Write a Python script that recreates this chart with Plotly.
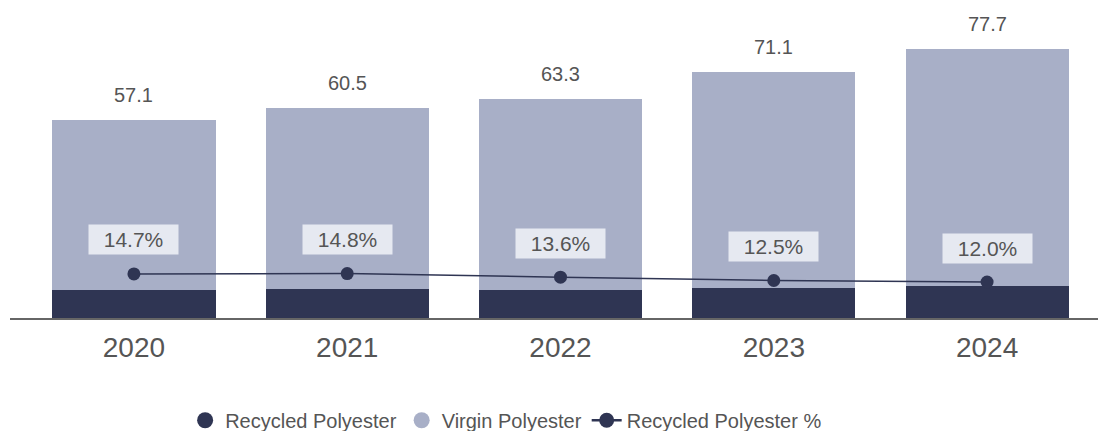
import plotly.graph_objects as go

years = ["2020", "2021", "2022", "2023", "2024"]
totals = [57.1, 60.5, 63.3, 71.1, 77.7]
recycled = [8.2, 8.4, 8.2, 8.7, 9.1]
virgin = [48.9, 52.1, 55.1, 62.4, 68.6]
recycled_pct = [14.7, 14.8, 13.6, 12.5, 12.0]
pct_labels = ["14.7%", "14.8%", "13.6%", "12.5%", "12.0%"]
total_labels = ["57.1", "60.5", "63.3", "71.1", "77.7"]

DARK = "#2f3553"
LIGHT = "#a8afc7"
TXT = "#555555"
FONT = "Liberation Sans, Arial, sans-serif"

fig = go.Figure()
fig.add_trace(go.Bar(x=years, y=recycled, marker=dict(color=DARK, line=dict(width=0)),
                     name="Recycled Polyester", showlegend=False, hoverinfo="skip"))
fig.add_trace(go.Bar(x=years, y=virgin, marker=dict(color=LIGHT, line=dict(width=0)),
                     name="Virgin Polyester", showlegend=False, hoverinfo="skip"))
fig.add_trace(go.Scatter(x=years, y=recycled_pct, yaxis="y2", mode="lines+markers",
                         line=dict(color=DARK, width=1.5),
                         marker=dict(color=DARK, size=13),
                         name="Recycled Polyester %", showlegend=False))

# legend proxies (circle symbols)
fig.add_trace(go.Scatter(x=[None], y=[None], mode="markers",
                         marker=dict(color=DARK, size=17, symbol="circle"),
                         name="Recycled Polyester"))
fig.add_trace(go.Scatter(x=[None], y=[None], mode="markers",
                         marker=dict(color=LIGHT, size=17, symbol="circle"),
                         name="Virgin Polyester"))
fig.add_trace(go.Scatter(x=[None], y=[None], mode="lines+markers",
                         line=dict(color=DARK, width=2.5),
                         marker=dict(color=DARK, size=15),
                         name="Recycled Polyester %"))

annotations = []
for i, (tot, lab) in enumerate(zip(totals, total_labels)):
    annotations.append(dict(x=i, y=tot, xref="x", yref="y", text=lab, showarrow=False,
                            yanchor="middle", yshift=25,
                            font=dict(size=20, color=TXT, family=FONT)))
for i, (p, lab) in enumerate(zip(recycled_pct, pct_labels)):
    annotations.append(dict(x=i, y=p, xref="x", yref="y2", text=lab, showarrow=False,
                            yanchor="middle", yshift=34, width=89, height=29,
                            bgcolor="rgba(236,238,244,0.92)", borderpad=0,
                            font=dict(size=21, color=TXT, family=FONT)))

fig.update_layout(
    width=1098, height=431,
    margin=dict(l=10, r=0, t=10, b=113, autoexpand=False),
    paper_bgcolor="white", plot_bgcolor="white",
    barmode="stack", bargap=0.235,
    font=dict(family=FONT, color=TXT),
    xaxis=dict(type="category", range=[-0.581, 4.52], showline=True, linecolor="#666666",
               linewidth=1.5, ticks="", showgrid=False, ticklabelstandoff=4,
               automargin=False,
               tickfont=dict(size=28, color=TXT, family=FONT)),
    yaxis=dict(range=[0, 88.9], visible=False, showgrid=False, zeroline=False),
    yaxis2=dict(range=[0, 102.7], overlaying="y", visible=False, showgrid=False, zeroline=False),
    legend=dict(orientation="h", x=0.456, xanchor="center", yref="container",
                y=0.025, yanchor="middle",
                font=dict(size=20, color=TXT, family=FONT), itemwidth=30,
                traceorder="normal"),
    annotations=annotations,
)

fig.write_html("out.html")
